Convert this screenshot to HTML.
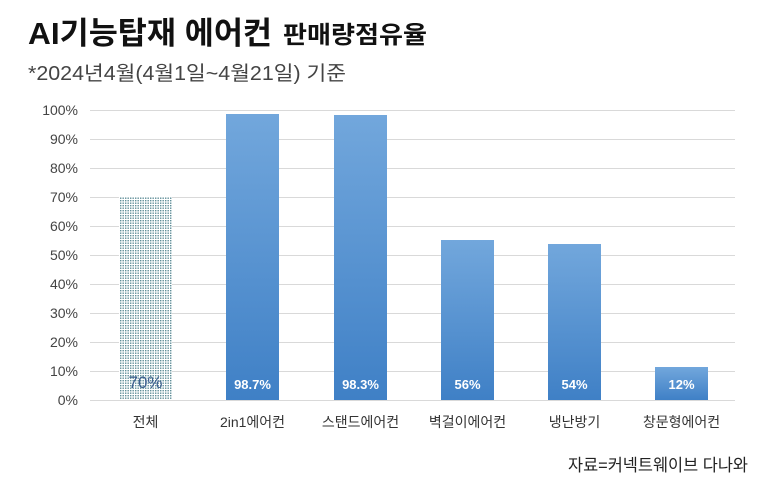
<!DOCTYPE html>
<html><head><meta charset="utf-8"><style>
html,body{margin:0;padding:0;background:#fff;}
svg{display:block;font-family:"Liberation Sans","Noto Sans CJK KR",sans-serif;}
</style></head><body>
<svg width="770" height="490" viewBox="0 0 770 490" xmlns="http://www.w3.org/2000/svg">
<defs>
<linearGradient id="g" x1="0" y1="0" x2="0" y2="1">
<stop offset="0" stop-color="#72a7dc"/><stop offset="1" stop-color="#3f80c6"/>
</linearGradient>
<pattern id="dots" width="2.5" height="2.5" patternUnits="userSpaceOnUse">
<rect width="2.5" height="2.5" fill="#fff"/>
<rect width="1.4" height="1.4" fill="#5f8e98"/>
</pattern>
</defs>
<text x="28" y="44" font-size="31" font-weight="bold" fill="#111" textLength="244" lengthAdjust="spacingAndGlyphs">AI기능탑재 에어컨</text>
<text x="283" y="43" font-size="24" font-weight="bold" fill="#111" textLength="144" lengthAdjust="spacingAndGlyphs">판매량점유율</text>
<text x="28" y="80" font-size="20" fill="#444" textLength="318" lengthAdjust="spacingAndGlyphs">*2024년4월(4월1일~4월21일) 기준</text>
<g stroke="#d9d9d9" stroke-width="1">
<line x1="90" x2="735" y1="110.5" y2="110.5"/><line x1="90" x2="735" y1="139.5" y2="139.5"/>
<line x1="90" x2="735" y1="168.5" y2="168.5"/><line x1="90" x2="735" y1="197.5" y2="197.5"/>
<line x1="90" x2="735" y1="226.5" y2="226.5"/><line x1="90" x2="735" y1="255.5" y2="255.5"/>
<line x1="90" x2="735" y1="284.5" y2="284.5"/><line x1="90" x2="735" y1="313.5" y2="313.5"/>
<line x1="90" x2="735" y1="342.5" y2="342.5"/><line x1="90" x2="735" y1="371.5" y2="371.5"/>
<line x1="90" x2="735" y1="400.5" y2="400.5"/>
</g>
<g font-size="14" fill="#444" text-anchor="end">
<text x="78" y="115">100%</text><text x="78" y="144">90%</text><text x="78" y="173">80%</text>
<text x="78" y="202">70%</text><text x="78" y="231">60%</text><text x="78" y="260">50%</text>
<text x="78" y="289">40%</text><text x="78" y="318">30%</text><text x="78" y="347">20%</text>
<text x="78" y="376">10%</text><text x="78" y="405">0%</text>
</g>
<rect x="119" y="197" width="53" height="203" fill="url(#dots)"/>
<rect x="226" y="114" width="53" height="286" fill="url(#g)"/>
<rect x="334" y="115" width="53" height="285" fill="url(#g)"/>
<rect x="441" y="240" width="53" height="160" fill="url(#g)"/>
<rect x="548" y="244" width="53" height="156" fill="url(#g)"/>
<rect x="655" y="367" width="53" height="33" fill="url(#g)"/>
<text x="145.5" y="388" font-size="17" fill="#3d5f8f" text-anchor="middle">70%</text>
<g font-size="13" font-weight="bold" fill="#fff" text-anchor="middle">
<text x="252.5" y="389">98.7%</text><text x="360.5" y="389">98.3%</text>
<text x="467.5" y="389">56%</text><text x="574.5" y="389">54%</text><text x="681.5" y="389">12%</text>
</g>
<g font-size="14" fill="#333" text-anchor="middle">
<text x="145.5" y="427">전체</text><text x="252.5" y="427">2in1에어컨</text>
<text x="360.5" y="427">스탠드에어컨</text><text x="467.5" y="427">벽걸이에어컨</text>
<text x="574.5" y="427">냉난방기</text><text x="681.5" y="427">창문형에어컨</text>
</g>
<text x="748" y="471" font-size="17" fill="#222" text-anchor="end" textLength="180" lengthAdjust="spacingAndGlyphs">자료=커넥트웨이브 다나와</text>
</svg>
</body></html>
